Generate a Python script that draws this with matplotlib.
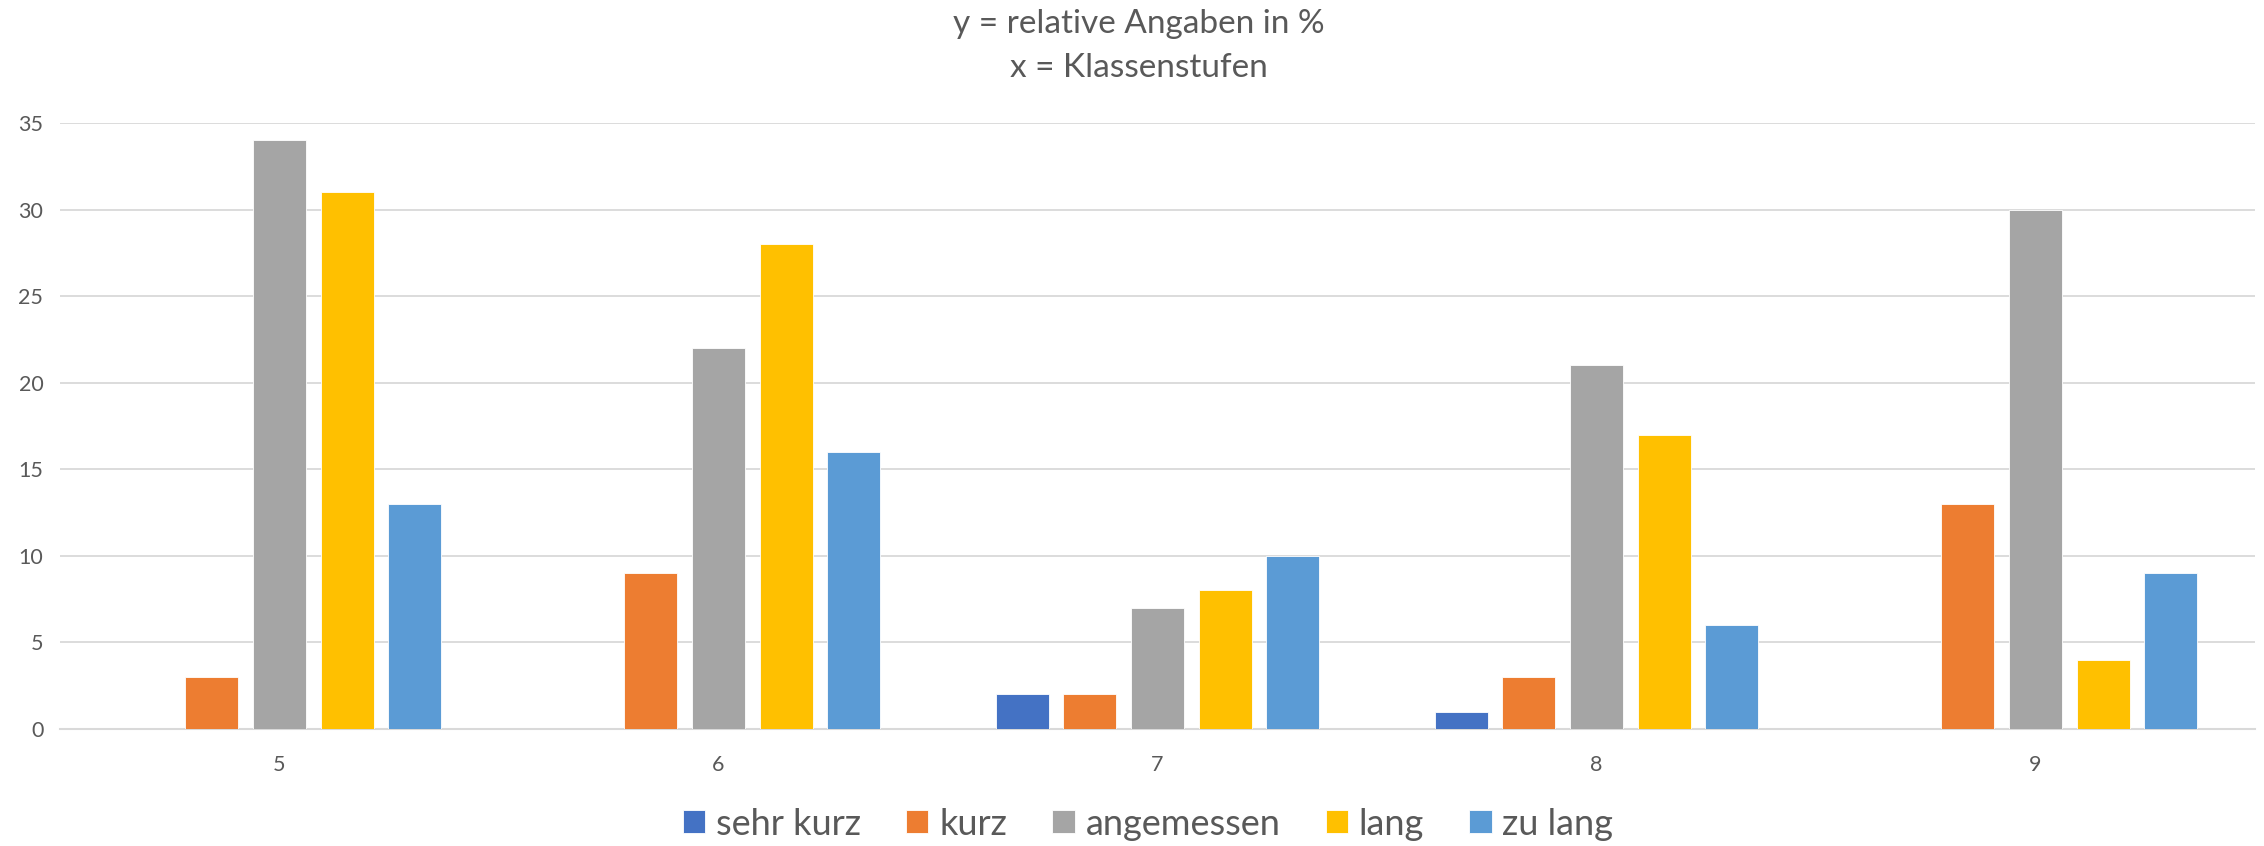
import matplotlib
matplotlib.use("Agg")
import matplotlib.pyplot as plt
import numpy as np

categories = ["5", "6", "7", "8", "9"]
series_names = ["sehr kurz", "kurz", "angemessen", "lang", "zu lang"]
sehr_kurz = [0, 0, 2, 1, 0]
kurz = [3, 9, 2, 3, 13]
angemessen = [34, 22, 7, 21, 30]
lang = [31, 28, 8, 17, 4]
zu_lang = [13, 16, 10, 6, 9]
series_values = [sehr_kurz, kurz, angemessen, lang, zu_lang]
colors = ["#4472C4", "#ED7D31", "#A5A5A5", "#FFC000", "#5B9BD5"]
y_ticks = [0, 5, 10, 15, 20, 25, 30, 35]
title_lines = ["y = relative Angaben in %", "x = Klassenstufen"]

plt.rcParams['font.family'] = ['Lato', 'DejaVu Sans']
text_color = "#595959"
grid_color = "#D9D9D9"

fig = plt.figure(figsize=(22.64, 8.46), dpi=100)
ax = fig.add_axes([60/2264, 1-729/846, (2255-60)/2264, (729-123)/846])

x = np.arange(len(categories))
pitch = 0.1538
width = 0.1207
for i, (name, vals, c) in enumerate(zip(series_names, series_values, colors)):
    ax.bar(x + (i - 2) * pitch, vals, width, color=c, label=name,
           edgecolor="white", linewidth=0.6, zorder=3)

ax.set_xlim(-0.5, len(categories) - 0.5)
ax.set_ylim(0, 35)
ax.set_yticks(y_ticks)
ax.set_xticks(x)
ax.set_xticklabels(categories)
ax.yaxis.grid(True, color=grid_color, linewidth=1.3, zorder=0)
ax.tick_params(axis='both', length=0, labelsize=15.5, colors=text_color)
ax.tick_params(axis='y', pad=12)
ax.tick_params(axis='x', pad=19)
for s in ["top", "right", "left"]:
    ax.spines[s].set_visible(False)
ax.spines["bottom"].set_color(grid_color)
ax.spines["bottom"].set_linewidth(1.5)

fig.text(1139/2264, 1 - 24/846, title_lines[0], ha="center", va="center",
         fontsize=24, color=text_color)
fig.text(1139/2264, 1 - 68/846, title_lines[1], ha="center", va="center",
         fontsize=24, color=text_color)

leg = fig.legend(loc="center", bbox_to_anchor=(1148/2264, 1 - 824/846), ncol=5,
                 frameon=False, fontsize=26, handlelength=0.62, handleheight=0.62,
                 handletextpad=0.3, columnspacing=1.25)
for t in leg.get_texts():
    t.set_color(text_color)

fig.savefig("out.png", dpi=100, facecolor="white")
